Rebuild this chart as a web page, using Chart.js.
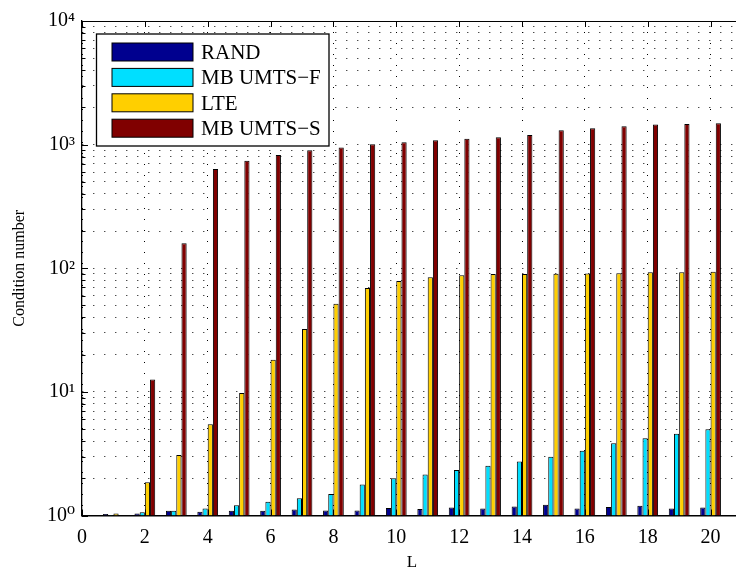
<!DOCTYPE html>
<html>
<head>
<meta charset="utf-8">
<script src="https://cdn.jsdelivr.net/npm/chart.js@4.4.1/dist/chart.umd.min.js"></script>
<style>
  html, body { margin: 0; padding: 0; background: #fff; overflow: hidden; }
  #wrap { width: 752px; height: 575px; position: relative; }
</style>
</head>
<body>
<div id="wrap"><canvas id="chart"></canvas></div>
<script>
// Condition number versus L for four measurement setups
const L = [1, 2, 3, 4, 5, 6, 7, 8, 9, 10, 11, 12, 13, 14, 15, 16, 17, 18, 19, 20];
const rand   = [1.03, 1.04, 1.09, 1.07, 1.09, 1.09, 1.12, 1.10, 1.10, 1.15, 1.13, 1.16, 1.14, 1.18, 1.22, 1.14, 1.17, 1.20, 1.14, 1.16];
const umtsF  = [1.01, 1.06, 1.09, 1.14, 1.21, 1.29, 1.38, 1.49, 1.78, 2.00, 2.15, 2.33, 2.53, 2.74, 2.99, 3.34, 3.84, 4.21, 4.59, 4.98];
const lte    = [1.04, 1.86, 3.09, 5.47, 9.8, 18.2, 32.3, 51.7, 69.3, 78.9, 84.6, 87.8, 89.9, 90.0, 90.2, 90.5, 91.0, 92.8, 93.0, 93.5];
const umtsS  = [1.0, 12.6, 159, 636, 742, 826, 901, 946, 1007, 1045, 1086, 1118, 1148, 1198, 1307, 1358, 1409, 1452, 1470, 1490];

const seriesNames  = ['RAND', 'MB UMTS\u2212F', 'LTE', 'MB UMTS\u2212S'];
const seriesColors = ['#00008F', '#00DFFF', '#FFCF00', '#800000'];

const xTicks   = [0, 2, 4, 6, 8, 10, 12, 14, 16, 18, 20];
const yDecades = [1, 10, 100, 1000, 10000];
const superDigits = ['\u2070', '\u00B9', '\u00B2', '\u00B3', '\u2074'];

// minor log grid: 1..9 within every decade
const yGrid = [];
for (let i = 0; i < yDecades.length - 1; i++) {
  for (let k = 1; k <= 9; k++) yGrid.push(k * yDecades[i]);
}
yGrid.push(yDecades[yDecades.length - 1]);

const SERIF = "'Liberation Serif', 'Times New Roman', 'DejaVu Serif', serif";
const seriesValues = [rand, umtsF, lte, umtsS];

const datasets = seriesValues.map((vals, s) => ({
  label: seriesNames[s],
  data: L.map((l, i) => ({ x: l, y: vals[i] })),
  backgroundColor: seriesColors[s],
  borderColor: '#000',
  borderWidth: 1,
  categoryPercentage: 0.66,
  barPercentage: 1.0
}));

// inward tick marks, top frame line and boxed legend
const frameAndLegend = {
  id: 'frameAndLegend',
  afterDraw(chart) {
    const ctx = chart.ctx;
    const area = chart.chartArea;
    const xs = chart.scales.x, ys = chart.scales.y;
    ctx.save();
    ctx.strokeStyle = '#000';
    ctx.lineWidth = 1;
    // top frame
    ctx.beginPath();
    ctx.moveTo(area.left, Math.round(area.top) + 0.5);
    ctx.lineTo(area.right, Math.round(area.top) + 0.5);
    ctx.stroke();
    // y ticks (left side)
    ys.ticks.forEach(t => {
      const y = Math.round(ys.getPixelForValue(t.value)) + 0.5;
      const len = yDecades.includes(t.value) ? 6 : 3.5;
      ctx.beginPath();
      ctx.moveTo(area.left, y);
      ctx.lineTo(area.left + len, y);
      ctx.moveTo(area.right, y);
      ctx.lineTo(area.right - len, y);
      ctx.stroke();
    });
    // x ticks (bottom and top)
    xs.ticks.forEach(t => {
      const x = Math.round(xs.getPixelForValue(t.value)) + 0.5;
      ctx.beginPath();
      ctx.moveTo(x, area.bottom);
      ctx.lineTo(x, area.bottom - 6);
      ctx.moveTo(x, area.top);
      ctx.lineTo(x, area.top + 6);
      ctx.stroke();
    });

    // legend
    const bx = area.left + 14.5, by = area.top + 13;
    const bw = 232.5, bh = 112;
    ctx.fillStyle = '#fff';
    ctx.fillRect(bx, by, bw, bh);
    ctx.lineWidth = 1.3;
    ctx.strokeRect(bx, by, bw, bh);
    ctx.font = '21px ' + SERIF;
    ctx.textBaseline = 'alphabetic';
    ctx.textAlign = 'left';
    chart.data.datasets.forEach((ds, i) => {
      const cy = by + 18 + i * 25.4;
      ctx.fillStyle = ds.backgroundColor;
      ctx.fillRect(bx + 15.5, cy - 9, 81, 18);
      ctx.lineWidth = 1;
      ctx.strokeStyle = '#000';
      ctx.strokeRect(bx + 15.5, cy - 9, 81, 18);
      ctx.fillStyle = '#000';
      ctx.fillText(ds.label, bx + 104.5, cy + 7);
    });
    ctx.restore();
  }
};

new Chart(document.getElementById('chart'), {
  type: 'bar',
  data: { datasets },
  plugins: [frameAndLegend],
  options: {
    responsive: true,
    maintainAspectRatio: false,
    animation: false,
    devicePixelRatio: 1,
    layout: { padding: { top: 21, right: 10, left: 0, bottom: 0 } },
    plugins: {
      legend: { display: false },
      tooltip: { enabled: false }
    },
    scales: {
      x: {
        type: 'linear',
        min: 0,
        max: 21,
        offset: false,
        afterBuildTicks: s => { s.ticks = xTicks.map(v => ({ value: v })); },
        afterFit: s => { s.height = 59.5; },
        ticks: {
          autoSkip: false,
          maxRotation: 0,
          padding: 10,
          color: '#000',
          font: { family: SERIF, size: 20 },
          callback: v => String(v)
        },
        grid: { color: '#000', lineWidth: 1, drawTicks: false, offset: false },
        border: { display: true, color: '#000', width: 1.5, dash: [1, 10] },
        title: {
          display: true,
          text: 'L',
          color: '#000',
          font: { family: SERIF, size: 17 },
          padding: { top: 0, bottom: 2 }
        }
      },
      y: {
        type: 'logarithmic',
        min: 1,
        max: 10000,
        afterBuildTicks: s => {
          s.ticks = yGrid.map(v => ({ value: v, major: yDecades.includes(v) }));
        },
        afterFit: s => { s.width = 82; },
        ticks: {
          autoSkip: false,
          padding: 7,
          color: '#000',
          font: { family: SERIF, size: 20 },
          callback: v => {
            const i = yDecades.indexOf(v);
            return i >= 0 ? '10' + superDigits[i] : '';
          }
        },
        grid: { color: '#000', lineWidth: 1, drawTicks: false },
        border: { display: true, color: '#000', width: 1.3, dash: [1, 10] },
        title: {
          display: true,
          text: 'Condition number',
          color: '#000',
          font: { family: SERIF, size: 16 },
          padding: { top: 10, bottom: 0 }
        }
      }
    }
  }
});
</script>
</body>
</html>
